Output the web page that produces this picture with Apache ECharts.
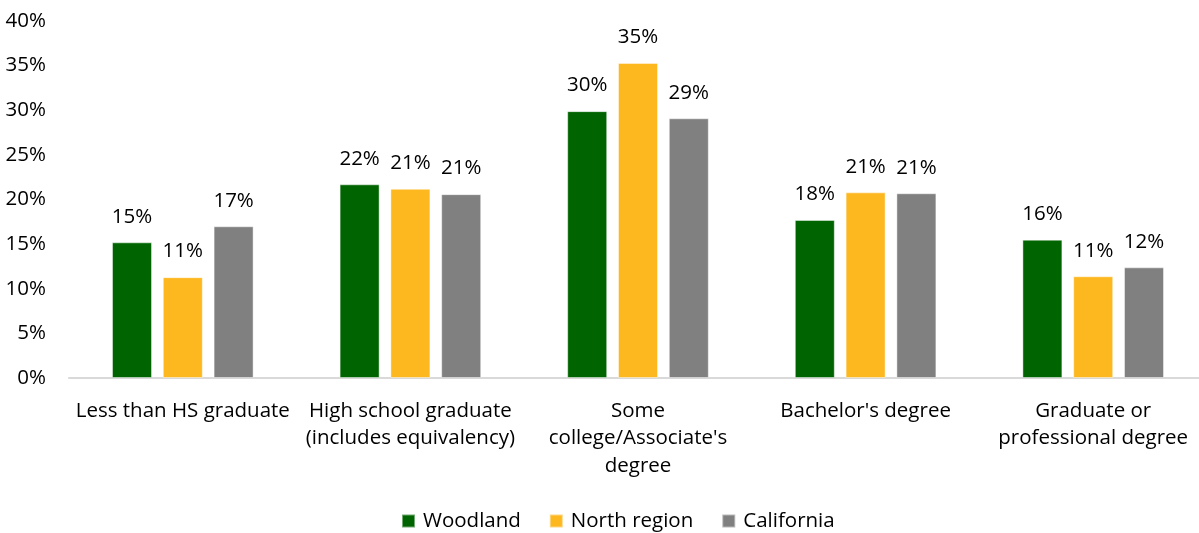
<!DOCTYPE html>
<html>
<head>
<meta charset="utf-8">
<script src="https://cdn.jsdelivr.net/npm/echarts@6/dist/echarts.min.js"></script>
<style>
  html, body { margin: 0; padding: 0; background: #ffffff; overflow: hidden; }
  /* plot area runs slightly past the right edge of the window */
  #chart { width: 1207px; height: 533px; }
</style>
</head>
<body>
<div id="chart"></div>
<script>
// Educational attainment shares (%)
const categories = [
  'Less than HS graduate',
  'High school graduate\n(includes equivalency)',
  'Some\ncollege/Associate\'s\ndegree',
  'Bachelor\'s degree',
  'Graduate or\nprofessional degree'
];
const woodland    = [15.2, 21.7, 29.9, 17.7, 15.5];
const northRegion = [11.3, 21.2, 35.3, 20.8, 11.4];
const california  = [17.0, 20.6, 29.1, 20.7, 12.4];
const yTicks = [0, 5, 10, 15, 20, 25, 30, 35, 40];

const FONT = '"Open Sans", sans-serif';
const TEXT = '#000000';
const FS = 20.5;

const chart = echarts.init(document.getElementById('chart'), null, { renderer: 'canvas' });

function barSeries(name, values, color) {
  return {
    name: name,
    type: 'bar',
    data: values,
    barWidth: 40,
    barGap: '27%',
    itemStyle: { color: color, borderColor: 'rgba(255,255,255,0.45)', borderWidth: 1 },
    label: {
      show: true,
      position: 'top',
      distance: 15,
      color: TEXT,
      fontFamily: FONT,
      fontSize: FS,
      formatter: p => Math.round(p.value) + '%'
    },
    emphasis: { disabled: true }
  };
}

chart.setOption({
  animation: false,
  backgroundColor: '#ffffff',
  textStyle: { fontFamily: FONT },
  grid: { left: 69, top: 21, right: 0, bottom: 155, containLabel: false },
  legend: {
    top: 510,
    left: 401,
    padding: 0,
    itemWidth: 13,
    itemHeight: 13,
    itemGap: 28,
    icon: 'rect',
    textStyle: { color: TEXT, fontFamily: FONT, fontSize: FS, lineHeight: 22, padding: [0, 0, 0, 3] },
    data: ['Woodland', 'North region', 'California']
  },
  xAxis: {
    type: 'category',
    data: categories,
    axisLine: { lineStyle: { color: '#d9d9d9', width: 2 } },
    axisTick: { show: false },
    axisLabel: {
      color: TEXT,
      fontFamily: FONT,
      fontSize: FS,
      lineHeight: 27.5,
      margin: 19,
      interval: 0
    }
  },
  yAxis: {
    type: 'value',
    min: yTicks[0],
    max: yTicks[yTicks.length - 1],
    interval: yTicks[1] - yTicks[0],
    splitLine: { show: false },
    axisLine: { show: false },
    axisTick: { show: false },
    axisLabel: {
      color: TEXT,
      fontFamily: FONT,
      fontSize: FS,
      margin: 23,
      formatter: v => v + '%'
    }
  },
  series: [
    barSeries('Woodland', woodland, '#006400'),
    barSeries('North region', northRegion, '#fdb71f'),
    barSeries('California', california, '#808080')
  ]
});
</script>
</body>
</html>
